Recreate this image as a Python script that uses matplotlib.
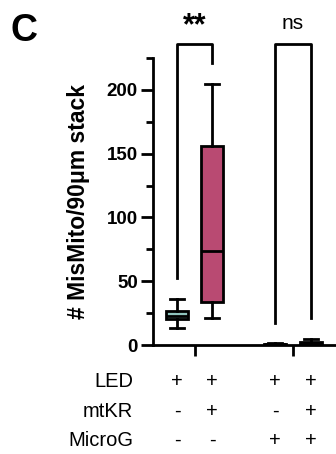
import matplotlib.pyplot as plt

plt.rcParams['font.family'] = ['Liberation Sans', 'DejaVu Sans']

positions = [1.0, 2.0, 3.8, 4.83]
colors = ["#8fc4bd", "#b94a72", "#8fc4bd", "#b94a72"]
whislo = [13, 21, 0, 0]
q1 = [20, 34, 0.2, 0.3]
med = [23, 74, 0.5, 1.0]
q3 = [27, 156, 1.0, 2.0]
whishi = [36, 205, 1.5, 5.0]

row_names = ["LED", "mtKR", "MicroG"]
row_signs = [["+", "+", "+", "+"],
             ["-", "+", "-", "+"],
             ["-", "-", "+", "+"]]

stats = []
for i in range(4):
    stats.append(dict(whislo=whislo[i], q1=q1[i], med=med[i], q3=q3[i], whishi=whishi[i], fliers=[]))

lw = 2.0
fig = plt.figure(figsize=(3.36, 4.54), dpi=100)
ax = fig.add_axes([153/336, 1 - 345/454, 1 - 153/336, (345 - 58)/454])

b = ax.bxp(stats, positions=positions, widths=0.63, capwidths=0.38, patch_artist=True,
           showfliers=False,
           boxprops=dict(lw=lw, edgecolor="black"),
           whiskerprops=dict(lw=lw), capprops=dict(lw=lw),
           medianprops=dict(color="black", lw=lw))
for patch, c in zip(b["boxes"], colors):
    patch.set_facecolor(c)

ax.set_xlim(0.314, 5.54)
ax.set_ylim(0, 225)
ax.set_yticks([0, 50, 100, 150, 200])
ax.set_yticks([25, 75, 125, 175, 225], minor=True)
ax.set_xticks([1.5, 4.3])
ax.set_xticklabels([])
for s in ["top", "right"]:
    ax.spines[s].set_visible(False)
for s in ["left", "bottom"]:
    ax.spines[s].set_linewidth(lw)
ax.tick_params(axis="both", which="both", width=lw)
ax.tick_params(axis="y", which="major", length=9, labelsize=13.5, pad=2)
ax.tick_params(axis="y", which="minor", length=5)
ax.tick_params(axis="x", length=8)
for lab in ax.get_yticklabels():
    lab.set_fontweight("bold")
ax.set_ylabel("# MisMito/90μm stack", fontsize=16.5, fontweight="bold", labelpad=12)

# significance brackets
top = 236
ax.plot([positions[0], positions[0], positions[1], positions[1]], [52.5, top, top, 221],
        color="black", lw=lw, clip_on=False)
ax.plot([positions[2], positions[2], positions[3], positions[3]], [17, top, top, 21],
        color="black", lw=lw, clip_on=False)
ax.text(1.5, 250, "**", ha="center", va="center", fontsize=22, fontweight="bold")
ax.text(4.3, 252, "ns", ha="center", va="center", fontsize=15)

# condition table
row_y = [-29, -52, -74.5]
for name, signs, y in zip(row_names, row_signs, row_y):
    ax.text(-0.26, y, name, ha="right", va="center", fontsize=14.5, clip_on=False)
    for x, s in zip(positions, signs):
        ax.text(x, y, s, ha="center", va="center", fontsize=14.5, clip_on=False)

fig.text(10/336, 1 - 31/454, "C", fontsize=27, fontweight="bold", va="center", ha="left")

fig.savefig("out.png", dpi=100)
